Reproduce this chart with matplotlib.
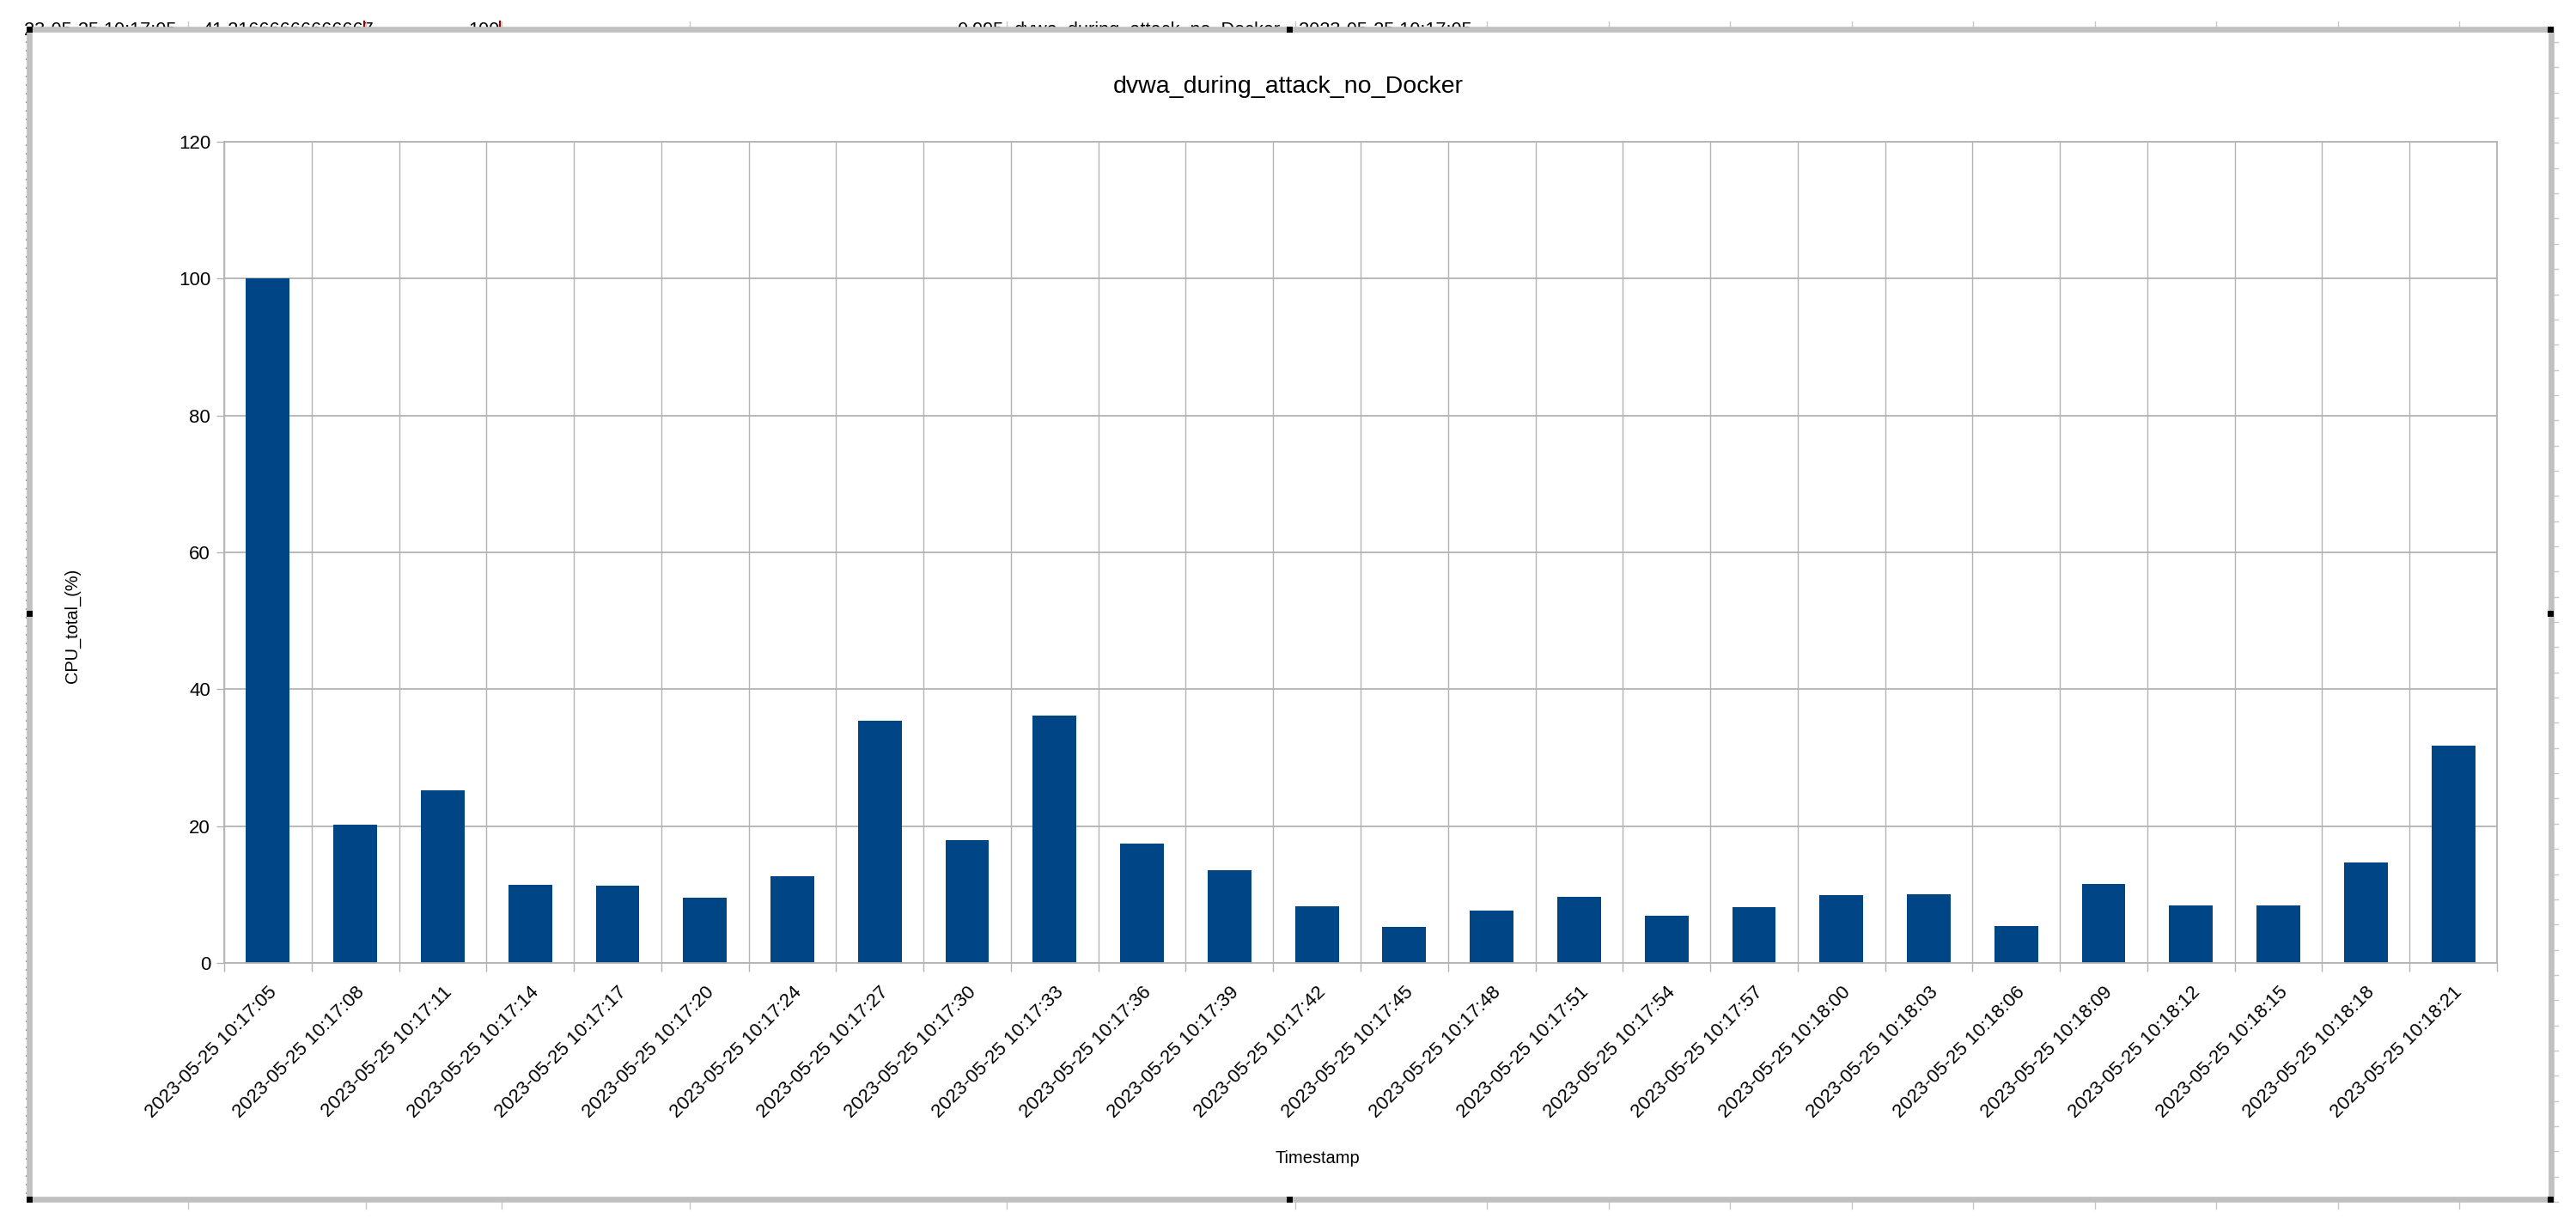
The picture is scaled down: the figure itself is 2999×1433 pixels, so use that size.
import matplotlib
matplotlib.use('Agg')
import matplotlib.pyplot as plt
from matplotlib.patches import Rectangle
from matplotlib.lines import Line2D
import numpy as np

plt.rcParams['font.family'] = ['Liberation Sans', 'DejaVu Sans']

# data
timestamps = [
    '2023-05-25 10:17:05', '2023-05-25 10:17:08', '2023-05-25 10:17:11',
    '2023-05-25 10:17:14', '2023-05-25 10:17:17', '2023-05-25 10:17:20',
    '2023-05-25 10:17:24', '2023-05-25 10:17:27', '2023-05-25 10:17:30',
    '2023-05-25 10:17:33', '2023-05-25 10:17:36', '2023-05-25 10:17:39',
    '2023-05-25 10:17:42', '2023-05-25 10:17:45', '2023-05-25 10:17:48',
    '2023-05-25 10:17:51', '2023-05-25 10:17:54', '2023-05-25 10:17:57',
    '2023-05-25 10:18:00', '2023-05-25 10:18:03', '2023-05-25 10:18:06',
    '2023-05-25 10:18:09', '2023-05-25 10:18:12', '2023-05-25 10:18:15',
    '2023-05-25 10:18:18', '2023-05-25 10:18:21',
]
cpu_total = [100, 20.2, 25.2, 11.4, 11.3, 9.5, 12.7, 35.4, 18.0, 36.2,
             17.4, 13.6, 8.3, 5.3, 7.7, 9.7, 6.9, 8.2, 9.9, 10.1,
             5.4, 11.6, 8.4, 8.4, 14.7, 31.8]
y_ticks = [0, 20, 40, 60, 80, 100, 120]

# spreadsheet cells peeking out above the chart object
cell_texts = [('23-05-25 10:17:05', 28, 'left'), ('41.21666666666667', 235, 'left'),
              ('100', 582, 'right'), ('0.995', 1168, 'right'),
              ('dvwa_during_attack_no_Docker', 1180, 'left'),
              ('2023-05-25 10:17:05', 1512, 'left')]
col_edges = [219, 426, 584, 803, 1172, 1508, 1731, 1873, 2014, 2156,
             2297, 2439, 2580, 2722, 2863]

W, H = 2999, 1433
BAR = '#004586'
GRID = '#b3b3b3'


def fx(px):
    return px / W


def fy(py):
    return 1 - py / H


fig = plt.figure(figsize=(W / 100, H / 100), dpi=100)

# sheet background bits
for txt, x, ha in cell_texts:
    fig.text(fx(x), fy(41), txt, fontsize=15.7, ha=ha, va='baseline',
             color='black', zorder=0)
for x in col_edges:
    fig.add_artist(Line2D([fx(x), fx(x)], [fy(25), fy(31)], color='#c8c8c8', lw=1, zorder=0.5))
    fig.add_artist(Line2D([fx(x), fx(x)], [fy(1399), fy(1407)], color='#c8c8c8', lw=1, zorder=0.5))
for x in [424, 582]:
    fig.add_artist(Line2D([fx(x), fx(x)], [fy(25), fy(31)], color='#a00000', lw=1.6, zorder=0.6))
for y in np.arange(49, 1400, 29.35):
    fig.add_artist(Line2D([fx(2973), fx(2978)], [fy(y), fy(y)], color='#c8c8c8', lw=1, zorder=0.5))
fig.add_artist(Line2D([fx(29.5), fx(29.5)], [fy(38), fy(1393)], color='#444444', lw=0.8,
                      dashes=(1, 8), zorder=0.5))

# chart object frame
fig.add_artist(Rectangle((fx(34.3), fy(1396)), fx(2969.5) - fx(34.3), fy(34.3) - fy(1396),
                         transform=fig.transFigure, facecolor='white', edgecolor='#c0c0c0',
                         lw=4.8, zorder=1))
for hx in [34.3, 1501, 2969.5]:
    for hy in [34.3, 714.5, 1396]:
        if hx == 1501 and hy == 714.5:
            continue
        fig.add_artist(Rectangle((fx(hx - 3.5), fy(hy + 3.5)), 7 / W, 7 / H,
                                 transform=fig.transFigure, facecolor='black',
                                 edgecolor='none', zorder=3))

ax = fig.add_axes([fx(261), fy(1121), fx(2907) - fx(261), fy(165) - fy(1121)], zorder=2)
x = np.arange(len(timestamps))
ax.bar(x, cpu_total, width=0.5, color=BAR, zorder=2)

ax.set_xlim(-0.5, len(timestamps) - 0.5)
ax.set_ylim(0, 120)
ax.set_yticks(y_ticks)
ax.set_yticklabels([str(v) for v in y_ticks], fontsize=16)
ax.set_xticks(x)
ax.set_xticklabels(timestamps, fontsize=16, rotation=45, ha='right', va='top',
                   rotation_mode='anchor')
ax.set_xticks(np.arange(len(timestamps) + 1) - 0.5, minor=True)
ax.tick_params(axis='x', which='major', length=0, pad=17)
ax.tick_params(axis='x', which='minor', length=7.5, width=1.0, color=GRID)
ax.tick_params(axis='y', length=6.5, width=1.0, color=GRID, pad=5)

ax.grid(axis='y', which='major', color=GRID, lw=1.3, zorder=0)
ax.grid(axis='x', which='minor', color=GRID, lw=1.0, zorder=0)
ax.set_axisbelow(True)
for s in ax.spines.values():
    s.set_color(GRID)
    s.set_linewidth(1.3)

fig.text(fx(1500), fy(101), 'dvwa_during_attack_no_Docker', fontsize=20.5,
         ha='center', va='center', zorder=3)
fig.text(fx(84), fy(728), 'CPU_total_(%)', fontsize=14.4, rotation=90,
         ha='center', va='center', zorder=3)
fig.text(fx(1534), fy(1348), 'Timestamp', fontsize=14.4,
         ha='center', va='center', zorder=3)

fig.savefig('out.png', dpi=100)
